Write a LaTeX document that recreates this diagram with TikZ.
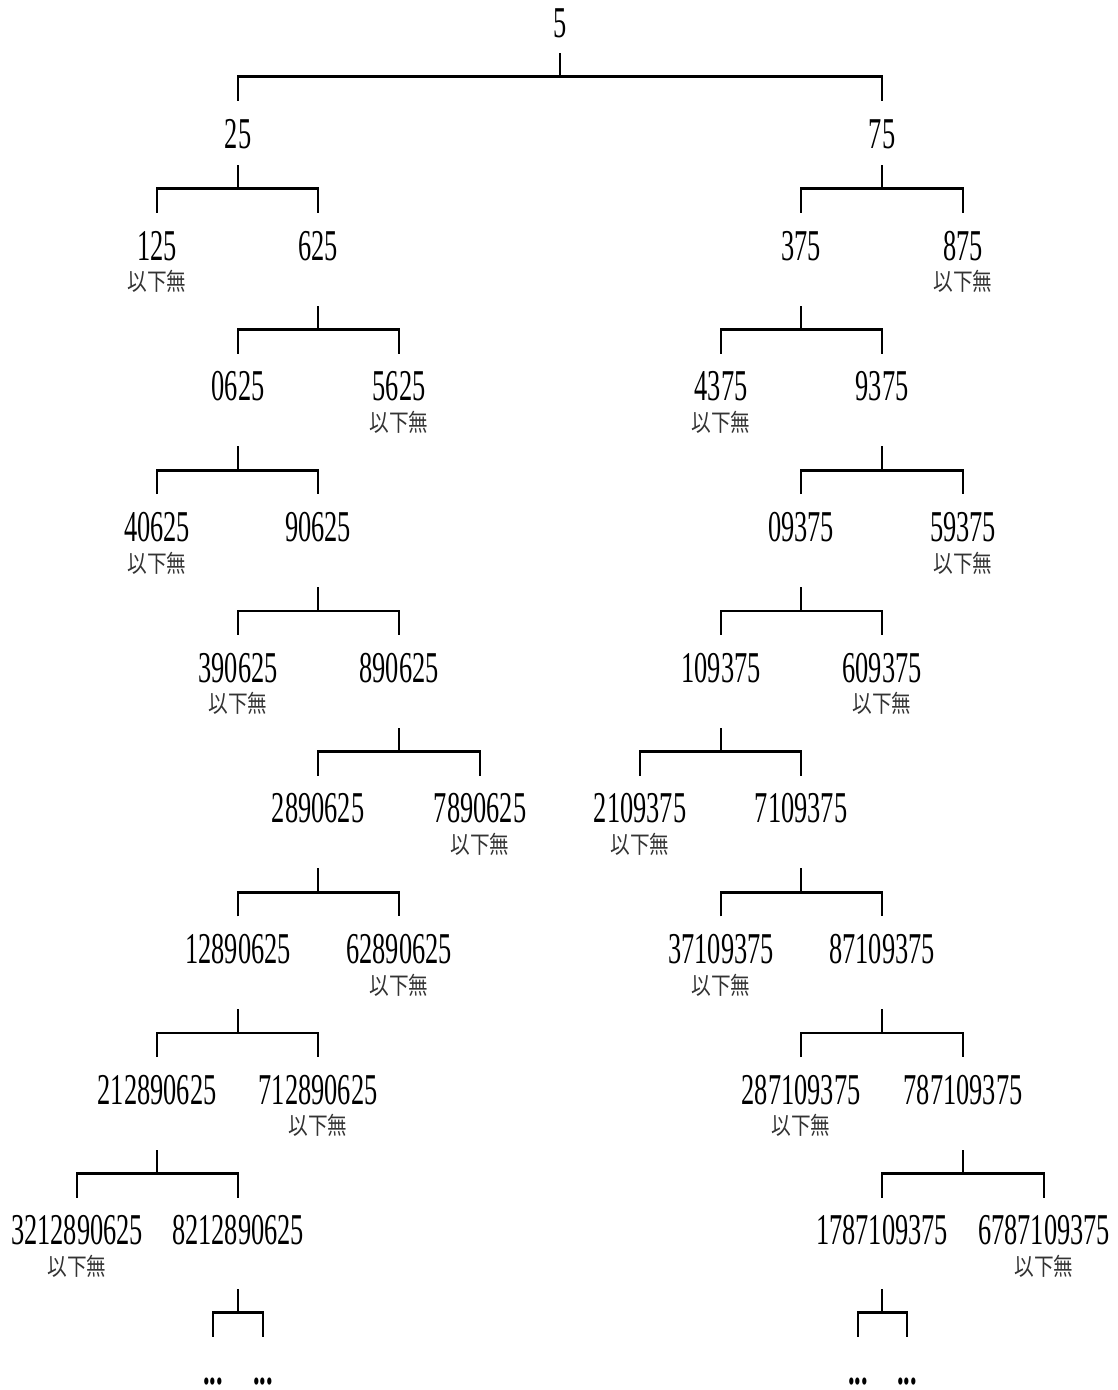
\documentclass[tikz,border=0pt]{standalone}
\usepackage{fontspec}
\newfontfamily\numfont{Liberation Serif}[FakeStretch=0.6]
\newfontfamily\cjk{Noto Sans CJK TC}[FakeStretch=0.82]
\usetikzlibrary{positioning,calc}

\tikzset{
  num/.style={inner sep=0pt, anchor=base, text height=30pt, text depth=0pt,
    font=\numfont\fontsize{44}{48}\selectfont},
  more/.style={num, font=\numfont\bfseries\fontsize{44}{48}\selectfont},
  nomore/.style={inner sep=0pt, text=black!80, font=\cjk\fontsize{24}{26}\selectfont},
  tree/.style={line width=2.8pt}
}
% bracket from a parent down to its two children
\newcommand\branch[3]{%
  \coordinate (#1-j) at ($(#2.north)+(0,41)$);
  \draw[tree] (#1-j -| #1) -- ++(0,24);
  \draw[tree] ($(#2.north)+(0,17)$) |- ($(#3.north)+(0,41)$) -- ($(#3.north)+(0,17)$);
}

\begin{document}
\begin{tikzpicture}[x=1pt,y=1pt]
\useasboundingbox (0,0) rectangle (1117,-1390);

\node[num] (n5) at (560,-37) {5};
\node[num] (n25) at (238,-148) {25};
\node[num] (n75) at (882,-148) {75};
% left side
\node[num] (n125) at (157,-260) {125};
\node[num] (n625) at (318,-260) {625};
\node[num] (n0625) at (238,-400.7) {0625};
\node[num] (n5625) at (399,-400.7) {5625};
\node[num] (n40625) at (157,-541.4) {40625};
\node[num] (n90625) at (318,-541.4) {90625};
\node[num] (n390625) at (238,-682.1) {390625};
\node[num] (n890625) at (399,-682.1) {890625};
\node[num] (n2890625) at (318,-822.8) {2890625};
\node[num] (n7890625) at (480,-822.8) {7890625};
\node[num] (n12890625) at (238,-963.5) {12890625};
\node[num] (n62890625) at (399,-963.5) {62890625};
\node[num] (n212890625) at (157,-1104.2) {212890625};
\node[num] (n712890625) at (318,-1104.2) {712890625};
\node[num] (n3212890625) at (77,-1244.9) {3212890625};
\node[num] (n8212890625) at (238,-1244.9) {8212890625};
\node[more] (dl1) at (213,-1384) {...};
\node[more] (dl2) at (263,-1384) {...};
% right side
\node[num] (n375) at (801,-260) {375};
\node[num] (n875) at (963,-260) {875};
\node[num] (n4375) at (721,-400.7) {4375};
\node[num] (n9375) at (882,-400.7) {9375};
\node[num] (n09375) at (801,-541.4) {09375};
\node[num] (n59375) at (963,-541.4) {59375};
\node[num] (n109375) at (721,-682.1) {109375};
\node[num] (n609375) at (882,-682.1) {609375};
\node[num] (n2109375) at (640,-822.8) {2109375};
\node[num] (n7109375) at (801,-822.8) {7109375};
\node[num] (n37109375) at (721,-963.5) {37109375};
\node[num] (n87109375) at (882,-963.5) {87109375};
\node[num] (n287109375) at (801,-1104.2) {287109375};
\node[num] (n787109375) at (963,-1104.2) {787109375};
\node[num] (n1787109375) at (882,-1244.9) {1787109375};
\node[num] (n6787109375) at (1044,-1244.9) {6787109375};
\node[more] (dr1) at (858,-1384) {...};
\node[more] (dr2) at (907,-1384) {...};

% dead ends
\foreach \n in {n125,n5625,n40625,n390625,n7890625,n62890625,n712890625,n3212890625,
  n875,n4375,n59375,n609375,n2109375,n37109375,n287109375,n6787109375}
  \node[nomore, below=10pt of \n] (\n-x) {以下無};

\foreach \p/\l/\r in {n5/n25/n75, n25/n125/n625, n625/n0625/n5625, n0625/n40625/n90625,
  n90625/n390625/n890625, n890625/n2890625/n7890625, n2890625/n12890625/n62890625,
  n12890625/n212890625/n712890625, n212890625/n3212890625/n8212890625,
  n8212890625/dl1/dl2,
  n75/n375/n875, n375/n4375/n9375, n9375/n09375/n59375, n09375/n109375/n609375,
  n109375/n2109375/n7109375, n7109375/n37109375/n87109375,
  n87109375/n287109375/n787109375, n787109375/n1787109375/n6787109375,
  n1787109375/dr1/dr2}
  {\branch{\p}{\l}{\r}}
\end{tikzpicture}
\end{document}
